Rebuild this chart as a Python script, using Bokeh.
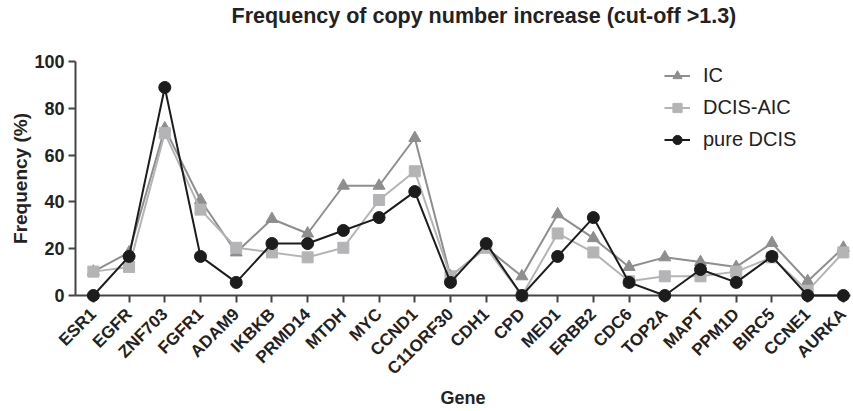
import math
from bokeh.plotting import figure
from bokeh.models import Range1d, FixedTicker, Legend, LegendItem, Title
from bokeh.embed import file_html
from bokeh.resources import INLINE

genes = ["ESR1", "EGFR", "ZNF703", "FGFR1", "ADAM9", "IKBKB", "PRMD14", "MTDH", "MYC",
         "CCND1", "C11ORF30", "CDH1", "CPD", "MED1", "ERBB2", "CDC6", "TOP2A", "MAPT",
         "PPM1D", "BIRC5", "CCNE1", "AURKA"]
ic = [10.2, 18.4, 71.4, 40.8, 18.4, 32.7, 26.5, 46.9, 46.9, 67.3, 8.2, 20.4, 8.2,
      34.7, 24.5, 12.2, 16.3, 14.3, 12.2, 22.4, 6.1, 20.4]
dcis_aic = [10.2, 12.2, 69.4, 36.7, 20.4, 18.4, 16.3, 20.4, 40.8, 53.1, 8.2, 20.4, 0.0,
            26.5, 18.4, 6.1, 8.2, 8.2, 10.2, 16.3, 2.0, 18.4]
pure_dcis = [0.0, 16.7, 88.9, 16.7, 5.6, 22.2, 22.2, 27.8, 33.3, 44.4, 5.6, 22.2, 0.0,
             16.7, 33.3, 5.6, 0.0, 11.1, 5.6, 16.7, 0.0, 0.0]
y_ticks = [0, 20, 40, 60, 80, 100]
title_text = "Frequency of copy number increase (cut-off >1.3)"
x_title = "Gene"
y_title = "Frequency (%)"

FONT = "Liberation Sans"
xs = list(range(len(genes)))

p = figure(width=853, height=411, output_backend="svg", toolbar_location=None,
           x_range=Range1d(-0.5, 21.2), y_range=Range1d(0, 100),
           min_border_left=75, min_border_right=3, min_border_top=61, min_border_bottom=115)
p.outline_line_color = None
p.grid.visible = False
p.background_fill_color = "white"

# main title (outermost panel) with a blank spacer panel between it and the frame
p.title.text = title_text
p.title.align = "left"
p.title.offset = 156
p.title.standoff = 4
p.title.vertical_align = "top"
p.title.text_font = FONT
p.title.text_font_size = "21.5px"
p.title.text_font_style = "bold"
p.title.text_color = "#222222"

spacer = Title(text=" ", text_font=FONT, text_font_size="18px", standoff=8)
p.add_layout(spacer, "above")

for ax in (p.xaxis[0], p.yaxis[0]):
    ax.axis_line_color = "#444444"
    ax.axis_line_width = 2
    ax.major_tick_line_color = "#444444"
    ax.major_tick_line_width = 2
    ax.major_tick_out = 7
    ax.major_tick_in = 0
    ax.minor_tick_line_color = None
    ax.major_label_text_font = FONT
    ax.major_label_text_font_style = "bold"
    ax.major_label_text_color = "#222222"
    ax.axis_label_text_font = FONT
    ax.axis_label_text_font_style = "bold"
    ax.axis_label_text_color = "#222222"

p.xaxis.ticker = FixedTicker(ticks=xs)
p.xaxis.major_label_overrides = {i: g for i, g in enumerate(genes)}
p.xaxis.major_label_orientation = math.pi / 4
p.xaxis.major_label_text_font_size = "17px"
p.xaxis.major_label_standoff = 9
p.xaxis.axis_label = x_title
p.xaxis.axis_label_text_font_size = "18px"
p.xaxis.axis_label_standoff = 0

p.yaxis.ticker = FixedTicker(ticks=y_ticks)
p.yaxis.major_label_text_font_size = "18px"
p.yaxis.major_label_standoff = 4
p.yaxis.axis_label = y_title
p.yaxis.axis_label_text_font_size = "19px"
p.yaxis.axis_label_standoff = 0

series = [
    ("IC", ic, "#8e8e8e", "triangle", 12),
    ("DCIS-AIC", dcis_aic, "#b4b4b6", "square", 11),
    ("pure DCIS", pure_dcis, "#1c1c1c", "circle", 12),
]
items = []
for name, vals, col, mk, sz in series:
    l = p.line(xs, vals, line_color=col, line_width=2, level="overlay")
    s = p.scatter(xs, vals, marker=mk, size=sz, fill_color=col, line_color=col, level="overlay")
    items.append(LegendItem(label=name, renderers=[l, s]))

legend = Legend(items=items, location=(589, 144), padding=0, margin=0, spacing=9,
                glyph_width=26, glyph_height=23, label_height=23, label_standoff=13,
                border_line_color=None, background_fill_alpha=0,
                label_text_font=FONT, label_text_font_size="20px", label_text_color="#222222")
p.add_layout(legend, "center")

open("out.html", "w").write(file_html(p, INLINE))
